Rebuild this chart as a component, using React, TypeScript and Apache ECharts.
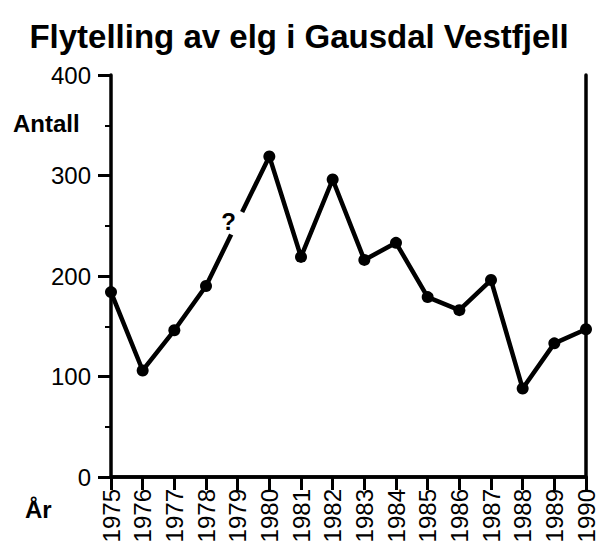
import React, { useEffect, useRef } from "react";
import * as echarts from "echarts";

const years = ["1975", "1976", "1977", "1978", "1979", "1980", "1981", "1982", "1983", "1984", "1985", "1986", "1987", "1988", "1989", "1990"];
const counts: (number | null)[] = [184, 106, 146, 190, null, 319, 219, 296, 216, 233, 179, 166, 196, 88, 133, 147];
const unknownYear = "1979";
const unknownValue = 252;
const unknownLabel = "?";
const yTicks = [0, 100, 200, 300, 400];

const titleText = "Flytelling av elg i Gausdal Vestfjell";
const yName = "Antall";
const xName = "År";

const FONT = "'Liberation Sans', Arial, Helvetica, sans-serif";

export default function App() {
  const ref = useRef<HTMLDivElement>(null);
  useEffect(() => {
    document.body.style.margin = "0";
    if (!ref.current) return;
    const chart = echarts.init(ref.current, undefined, { renderer: "svg" });
    chart.setOption({
      animation: false,
      backgroundColor: "#ffffff",
      title: {
        text: titleText,
        left: "center",
        top: 15,
        textStyle: { fontFamily: FONT, fontSize: 33, fontWeight: "bold", color: "#000" },
      },
      grid: { left: 111, right: 11, top: 75, bottom: 80, containLabel: false },
      xAxis: [
        {
          type: "category",
          data: years,
          boundaryGap: false,
          axisLine: { show: true, lineStyle: { color: "#000", width: 3.5 } },
          axisTick: { show: true, length: 13, lineStyle: { color: "#000", width: 3 } },
          axisLabel: { rotate: 90, fontSize: 24, color: "#000", margin: 12, fontFamily: FONT, interval: 0 },
          splitLine: { show: false },
        },
        {
          type: "category",
          data: years,
          position: "top",
          boundaryGap: false,
          axisLine: { show: true, lineStyle: { color: "#000", width: 3.5 } },
          axisTick: { show: false },
          axisLabel: { show: false },
        },
      ],
      yAxis: [
        {
          type: "value",
          min: yTicks[0],
          max: yTicks[yTicks.length - 1],
          interval: 100,
          axisLine: { show: true, lineStyle: { color: "#000", width: 3.5 } },
          axisTick: { show: true, length: 13, lineStyle: { color: "#000", width: 3 } },
          minorTick: { show: true, splitNumber: 2, length: 6, lineStyle: { color: "#000", width: 2 } },
          axisLabel: { fontSize: 24, color: "#000", margin: 20, fontFamily: FONT },
          splitLine: { show: false },
        },
        {
          type: "value",
          position: "right",
          min: yTicks[0],
          max: yTicks[yTicks.length - 1],
          interval: 100,
          axisLine: { show: true, lineStyle: { color: "#000", width: 3.5 } },
          axisTick: { show: false },
          axisLabel: { show: false },
          splitLine: { show: false },
        },
      ],
      graphic: [
        {
          type: "text",
          left: 13,
          top: 111,
          style: { text: yName, fontFamily: FONT, fontSize: 24, fontWeight: "bold", fill: "#000" },
        },
        {
          type: "text",
          left: 25,
          top: 497,
          style: { text: xName, fontFamily: FONT, fontSize: 24, fontWeight: "bold", fill: "#000" },
        },
      ],
      series: [
        {
          type: "line",
          data: counts,
          connectNulls: true,
          lineStyle: { color: "#000", width: 4.5 },
          itemStyle: { color: "#000" },
          symbol: "circle",
          symbolSize: 12,
          z: 2,
          emphasis: { disabled: true },
        },
        {
          type: "scatter",
          data: [[years.indexOf(unknownYear), unknownValue]],
          symbol: "rect",
          symbolSize: [14, 25],
          symbolRotate: -26,
          itemStyle: { color: "#fff", opacity: 1 },
          z: 3,
          emphasis: { disabled: true },
          label: {
            show: true,
            formatter: unknownLabel,
            position: "left",
            distance: 0,
            offset: [10, -2],
            fontSize: 24,
            fontWeight: "bold",
            color: "#000",
            textBorderWidth: 0,
            fontFamily: FONT,
          },
        },
      ],
    });
    return () => chart.dispose();
  }, []);
  return <div ref={ref} style={{ width: 598, height: 557 }} />;
}
